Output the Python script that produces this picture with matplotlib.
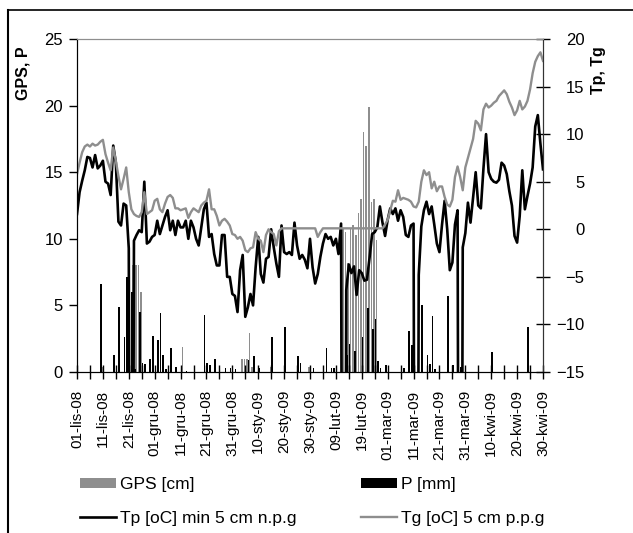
import numpy as np
import matplotlib
matplotlib.use('Agg')
import matplotlib.pyplot as plt
from matplotlib.lines import Line2D

plt.rcParams['font.family'] = ['Liberation Sans', 'DejaVu Sans']

# daily values 01-11-2008 .. 30-04-2009 (right axis, oC)
# -99 = missing reading, the Tp line drops below the axis floor there
tp = [1.6, 3.9, 5.1, 6.2, 7.6, 7.5, 6.5, 7.8, 6.4, 6.7,
      7.2, 5.0, 4.8, 3.6, 8.8, 7.0, 0.8, 0.4, 2.7, 2.5,
      -2.0, -99, -1.2, -0.6, -0.1, -0.3, 5.0, -1.5, -1.3, -0.8,
      -0.6, 0.9, -0.5, 0.4, 1.3, 2.0, -0.1, 0.9, -0.6, 0.9,
      0.2, 0.2, 0.9, -1.0, 0.9, 0.2, -1.0, -1.7, 0.2, 2.1,
      2.8, -0.8, -0.5, -2.6, -3.8, -3.8, -0.6, -0.6, -5.0, -5.0,
      -6.8, -7.0, -8.7, -4.3, -2.7, -9.2, -8.2, -6.8, -8.0, -4.0,
      -0.8, -4.7, -5.6, -3.1, -2.9, 0.0, -1.9, -3.6, -5.0, 0.4,
      -2.4, -2.6, -2.4, -2.7, 0.7, -1.7, -3.1, -2.7, -3.2, -4.1,
      -1.0, -4.0, -5.7, -4.7, -2.9, -1.5, -0.5, -1.0, -0.8, -1.7,
      -1.0, -2.6, 0.6, -99, -6.4, -3.7, -4.6, -3.9, -6.9, -4.3,
      -4.6, -5.4, -5.3, -3.0, -0.5, -0.3, 0.2, 2.4, 0.7, -0.7,
      1.0, 2.2, 1.6, 2.2, 0.9, 2.0, 1.3, -0.6, -0.8, 0.4,
      0.6, -99, -4.8, 0.3, 2.0, 2.9, 1.6, 2.4, 0.5, -1.5,
      -2.4, 0.5, 3.0, 0.0, -4.3, -3.5, 0.5, 2.0, -99, -1.9,
      -0.4, 2.8, 0.7, 3.3, 6.0, 2.5, 2.2, 6.4, 10.0, 6.0,
      5.3, 5.0, 4.9, 5.2, 7.0, 6.7, 5.8, 4.0, 2.5, -0.7,
      -1.4, 1.4, 6.2, 2.1, 3.5, 4.8, 6.5, 10.8, 12.0, 9.0,
      6.3]

tg = [5.8, 7.0, 8.1, 8.7, 8.9, 8.7, 9.0, 8.8, 8.9, 9.2,
      9.4, 7.9, 7.0, 6.2, 8.6, 7.2, 5.6, 4.2, 5.3, 6.5,
      3.9, 2.1, 1.6, 1.4, 1.3, 1.8, 3.9, 1.6, 1.8, 2.0,
      3.0, 3.2, 2.1, 1.8, 2.7, 3.4, 3.6, 3.3, 2.2, 2.2,
      2.0, 2.1, 2.2, 1.2, 1.8, 2.2, 2.0, 1.8, 2.5, 2.8,
      3.0, 4.2, 2.1, 2.1, 1.4, 0.4, 0.9, 1.1, 0.8, 0.4,
      -0.5, -0.6, -1.0, -0.8, -1.2, -2.2, -2.4, -2.0, -1.9, -0.3,
      -1.0, -1.2, -2.4, -0.6, 0.0, -0.3, -0.5, -1.7, -0.2, 0.1,
      0.1, 0.1, 0.1, 0.1, 0.1, 0.1, 0.1, 0.1, 0.1, 0.1,
      0.1, 0.1, 0.1, -0.8, -0.3, 0.1, 0.1, 0.1, 0.1, 0.1,
      0.1, 0.1, 0.1, 0.1, 0.1, 0.1, 0.1, 0.1, 0.1, 0.1,
      0.1, 0.1, 0.1, 0.1, 0.1, 0.1, 0.1, 0.1, 0.1, 0.5,
      1.0, 2.0, 3.0, 2.9, 4.1, 3.1, 3.3, 3.2, 3.1, 2.9,
      2.4, 2.3, 2.9, 5.0, 6.2, 5.7, 6.0, 4.3, 5.0, 4.0,
      4.5, 4.5, 3.4, 2.6, 2.4, 3.1, 5.5, 6.6, 5.5, 4.1,
      6.5, 7.5, 8.5, 9.5, 11.4, 11.1, 10.4, 12.6, 13.2, 12.8,
      13.0, 13.3, 13.5, 14.0, 14.3, 14.6, 14.2, 13.4, 12.8, 12.0,
      12.5, 13.5, 12.6, 12.9, 13.5, 14.7, 16.4, 17.6, 18.2, 18.6,
      17.7]

# snow cover (GPS, cm) and precipitation (P, mm), left axis; day index from 01-11-2008
gps_days = [10, 22, 23, 24, 25, 41, 64, 65, 66, 67, 68, 75, 90,
            103, 104, 105, 106, 107, 108, 109, 110, 111, 112, 113, 114, 115, 116]
gps_vals = [0.4, 8.0, 8.0, 8.0, 6.0, 1.9, 1.0, 1.0, 1.0, 2.9, 0.4, 0.4, 0.4,
            10.7, 10.5, 8.2, 10.7, 11.0, 10.3, 11.9, 13.0, 18.0, 17.0, 19.9, 12.8, 13.0, 9.9]

p_days = [9, 14, 15, 16, 18, 19, 20, 21, 22, 24, 25, 26, 28, 29, 30, 31, 32, 33, 34,
          36, 38, 40, 42, 49, 50, 51, 53, 57, 59, 61, 66, 68, 70, 75, 80, 85, 86,
          91, 96, 98, 99, 104, 105, 107, 110, 112, 114, 115, 116, 117, 119, 126,
          128, 129, 133, 135, 136, 137, 138, 143, 145, 147, 148, 160, 174]
p_vals = [6.6, 1.3, 0.2, 4.9, 2.6, 7.1, 3.5, 6.0, 0.2, 4.5, 0.7, 0.6, 1.0, 2.7, 0.2, 2.4, 4.4, 1.3, 0.2,
          1.8, 0.4, 0.4, 0.1, 4.3, 0.7, 0.5, 1.0, 0.3, 0.3, 0.2, 0.9, 1.2, 0.3, 2.6, 3.4, 1.2, 0.7,
          0.3, 1.8, 0.3, 0.3, 1.3, 2.1, 1.6, 2.6, 4.8, 3.2, 4.0, 0.8, 0.3, 0.5, 0.3,
          3.1, 2.0, 5.0, 1.3, 0.6, 4.2, 0.2, 5.7, 0.5, 3.4, 0.4, 1.5, 3.4]

tick_labels = ['01-lis-08', '11-lis-08', '21-lis-08', '01-gru-08', '11-gru-08',
               '21-gru-08', '31-gru-08', '10-sty-09', '20-sty-09', '30-sty-09',
               '09-lut-09', '19-lut-09', '01-mar-09', '11-mar-09', '21-mar-09',
               '31-mar-09', '10-kwi-09', '20-kwi-09', '30-kwi-09']

GREY = '#8e8e8e'
W, H = 633, 533

days = np.arange(len(tp))

fig = plt.figure(figsize=(W / 100, H / 100), dpi=100)
ax = fig.add_axes([77 / W, 1 - 372 / H, (543 - 77) / W, (372 - 39) / H])
ax2 = ax.twinx()

ax.bar(np.array(gps_days) - 0.3, gps_vals, width=0.6, color=GREY, label='GPS [cm]')
ax.bar(np.array(p_days) + 0.3, p_vals, width=0.6, color='black', label='P [mm]')
ax2.plot(days, tp, color='black', lw=1.9, label='Tp [oC] min 5 cm n.p.g')
ax2.plot(days, tg, color=GREY, lw=1.7, label='Tg [oC] 5 cm p.p.g')

ax.set_xlim(0, 180)
ax.set_ylim(0, 25)
ax2.set_ylim(-15, 20)
ax.set_yticks(np.arange(0, 26, 5))
ax2.set_yticks(np.arange(-15, 21, 5))

ax.set_xticks(np.arange(0, 181, 10))
ax.set_xticklabels(tick_labels, rotation=90)
ax.set_xticks(np.arange(0, 181, 5), minor=True)

for a in (ax, ax2):
    a.spines['top'].set_color(GREY)
    a.spines['left'].set_color('black')
    a.spines['bottom'].set_color('black')
    a.spines['right'].set_color('#333333')

ax.tick_params(axis='y', direction='out', length=6, width=1, labelsize=12, pad=4)
ax.tick_params(axis='x', which='both', direction='inout', length=10, width=1,
               labelsize=11, pad=8)
ax2.tick_params(axis='y', direction='inout', length=10, width=1, labelsize=12, pad=25)
for lab in ax2.get_yticklabels():
    lab.set_ha('right')

fig.text(23 / W, 1 - 73 / H, 'GPS, P', rotation=90, ha='center', va='center',
         fontsize=11.5, fontweight='bold')
fig.text(598 / W, 1 - 70 / H, 'Tp, Tg', rotation=90, ha='center', va='center',
         fontsize=11.5, fontweight='bold')

# outer frame (left and top edges visible)
fig.add_artist(Line2D([8 / W, 8 / W], [0, 1 - 10 / H], transform=fig.transFigure,
                      color='black', lw=1.5))
fig.add_artist(Line2D([8 / W, 1], [1 - 10 / H, 1 - 10 / H], transform=fig.transFigure,
                      color='black', lw=1.2))

h1, l1 = ax.get_legend_handles_labels()
h2, l2 = ax2.get_legend_handles_labels()
handles = [h1[0], h2[0], h1[1], h2[1]]
labels = [l1[0], l2[0], l1[1], l2[1]]
fig.legend(handles, labels, ncol=2, loc='upper left', bbox_to_anchor=(80 / W, 1 - 477 / H),
           frameon=False, fontsize=12.5, handlelength=2.1, handleheight=0.55,
           handletextpad=0.2, columnspacing=3.7, labelspacing=1.1,
           borderaxespad=0, borderpad=0)

fig.savefig('out.png', dpi=100)
